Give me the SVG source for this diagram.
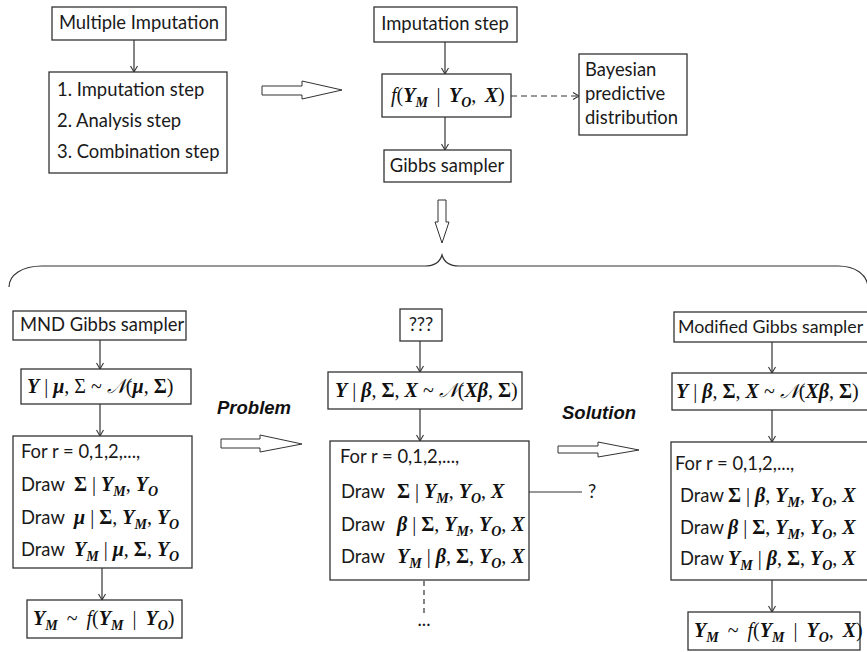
<svg xmlns="http://www.w3.org/2000/svg" width="867" height="652" viewBox="0 0 867 652">
<style>
.box{fill:#fff;stroke:#333;stroke-width:1.3}
.t{font-family:Lato,"Open Sans",sans-serif;font-size:18.4px;fill:#1a1a1a}
.lab{font-family:"Liberation Sans",Arial,sans-serif;font-size:18.5px;font-weight:bold;font-style:italic;fill:#111}
.m{font-family:"Liberation Serif","DejaVu Serif",serif;font-size:20px;fill:#111}
.bi{font-weight:bold;font-style:italic}
.b{font-weight:bold}
.i{font-style:italic}
.s{font-size:14px}
.ln{stroke:#333;stroke-width:1.2;fill:none}
.hol{fill:#fff;stroke:#333;stroke-width:1}
</style>
<defs>
<marker id="v" markerUnits="userSpaceOnUse" markerWidth="10" markerHeight="10" refX="7" refY="4" orient="auto">
<path d="M1,0.5 L7,4 L1,7.5" fill="none" stroke="#333" stroke-width="1.1"/>
</marker>
</defs>

<g id="connectors">
<line class="ln" x1="134" y1="40" x2="134" y2="72" marker-end="url(#v)"/>
<line class="ln" x1="445" y1="42" x2="445" y2="74" marker-end="url(#v)"/>
<line class="ln" x1="445" y1="117" x2="445" y2="150" marker-end="url(#v)"/>
<line class="ln" x1="511" y1="96" x2="579" y2="96" stroke-dasharray="6,4" marker-end="url(#v)"/>
<polygon class="hol" points="262,86 302,86 302,81 342,90 302,99 302,95 262,95"/>
<polygon class="hol" points="438,200 446,200 446,222 449,222 442,243 435,222 438,222"/>
<path class="ln" d="M9,287 C9,275 22,266 42,266 L425,266 C434,266 440,262 442,255 C444,262 450,266 459,266 L838,266 C856,266 867,275 868,287"/>
<line class="ln" x1="100" y1="340" x2="100" y2="369" marker-end="url(#v)"/>
<line class="ln" x1="100" y1="404" x2="100" y2="436" marker-end="url(#v)"/>
<line class="ln" x1="102" y1="568" x2="102" y2="600" marker-end="url(#v)"/>
<polygon class="hol" points="221,439 260,439 260,435 302,444 260,452 260,448 221,448"/>
<line class="ln" x1="420" y1="341" x2="420" y2="372" marker-end="url(#v)"/>
<line class="ln" x1="420" y1="409" x2="420" y2="441" marker-end="url(#v)"/>
<line class="ln" x1="515" y1="492" x2="582" y2="492"/>
<line class="ln" x1="424" y1="581" x2="424" y2="613" stroke-dasharray="5,4"/>
<polygon class="hol" points="558,446 598,446 598,442 639,450 598,457 598,453 558,453"/>
<line class="ln" x1="772" y1="342" x2="772" y2="373" marker-end="url(#v)"/>
<line class="ln" x1="772" y1="410" x2="772" y2="442" marker-end="url(#v)"/>
<line class="ln" x1="772" y1="580" x2="772" y2="612" marker-end="url(#v)"/>
</g>

<g id="multiple-imputation">
<rect class="box" x="52" y="7" width="174" height="33"/>
<text class="t" x="139" y="29" text-anchor="middle">Multiple Imputation</text>
</g>
<g id="steps">
<rect class="box" x="49" y="72" width="178" height="101"/>
<text class="t" x="57" y="96">1. Imputation step</text>
<text class="t" x="57" y="127">2. Analysis step</text>
<text class="t" x="57" y="158">3. Combination step</text>
</g>
<g id="imputation-step">
<rect class="box" x="374" y="7" width="143" height="35"/>
<text class="t" x="445" y="30" text-anchor="middle">Imputation step</text>
</g>
<g id="f-box">
<rect class="box" x="382" y="74" width="129" height="43"/>
<text class="m" x="391" y="102" word-spacing="3.5"><tspan class="i">f</tspan>(<tspan class="bi">Y</tspan><tspan class="bi s" dy="5">M</tspan><tspan dy="-5"> | </tspan><tspan class="bi">Y</tspan><tspan class="bi s" dy="5">O</tspan><tspan dy="-5">, </tspan><tspan class="bi">X</tspan>)</text>
</g>
<g id="gibbs-sampler">
<rect class="box" x="384" y="150" width="127" height="32"/>
<text class="t" x="447" y="172" text-anchor="middle">Gibbs sampler</text>
</g>
<g id="bayesian">
<rect class="box" x="579" y="54" width="108" height="81"/>
<text class="t" x="585" y="76">Bayesian</text>
<text class="t" x="585" y="100">predictive</text>
<text class="t" x="585" y="124">distribution</text>
</g>

<g id="mnd-gibbs">
<rect class="box" x="13" y="311" width="173" height="29"/>
<text class="t" x="20" y="331">MND Gibbs sampler</text>
</g>
<g id="mnd-model">
<rect class="box" x="21" y="369" width="170" height="35"/>
<text class="m" x="27" y="393"><tspan class="bi">Y</tspan> | <tspan class="bi">μ</tspan>, Σ ~ <tspan class="i">𝒩</tspan>(<tspan class="bi">μ</tspan>, <tspan class="b">Σ</tspan>)</text>
</g>
<g id="mnd-loop">
<rect class="box" x="13" y="436" width="179" height="132"/>
<text class="t" x="21" y="458">For r = 0,1,2,...,</text>
<text class="t" x="21" y="491">Draw</text>
<text class="m" x="74" y="491"><tspan class="b">Σ</tspan> | <tspan class="bi">Y</tspan><tspan class="bi s" dy="5">M</tspan><tspan dy="-5">, </tspan><tspan class="bi">Y</tspan><tspan class="bi s" dy="5">O</tspan></text>
<text class="t" x="21" y="524">Draw</text>
<text class="m" x="74" y="524"><tspan class="bi">μ</tspan> | <tspan class="b">Σ</tspan>, <tspan class="bi">Y</tspan><tspan class="bi s" dy="5">M</tspan><tspan dy="-5">, </tspan><tspan class="bi">Y</tspan><tspan class="bi s" dy="5">O</tspan></text>
<text class="t" x="21" y="556">Draw</text>
<text class="m" x="74" y="556"><tspan class="bi">Y</tspan><tspan class="bi s" dy="5">M</tspan><tspan dy="-5"> | </tspan><tspan class="bi">μ</tspan>, <tspan class="b">Σ</tspan>, <tspan class="bi">Y</tspan><tspan class="bi s" dy="5">O</tspan></text>
</g>
<g id="mnd-result">
<rect class="box" x="27" y="600" width="155" height="38"/>
<text class="m" x="33" y="625" word-spacing="4"><tspan class="bi">Y</tspan><tspan class="bi s" dy="5">M</tspan><tspan dy="-5"> ~ </tspan><tspan class="i">f</tspan>(<tspan class="bi">Y</tspan><tspan class="bi s" dy="5">M</tspan><tspan dy="-5"> | </tspan><tspan class="bi">Y</tspan><tspan class="bi s" dy="5">O</tspan><tspan dy="-5">)</tspan></text>
</g>

<text class="lab" x="217" y="414">Problem</text>
<text class="lab" x="562" y="419">Solution</text>

<g id="unknown">
<rect class="box" x="400" y="309" width="42" height="32"/>
<text class="t" x="421" y="331" text-anchor="middle">???</text>
</g>
<g id="reg-model">
<rect class="box" x="328" y="372" width="194" height="37"/>
<text class="m" x="335" y="397"><tspan class="bi">Y</tspan> | <tspan class="bi">β</tspan>, <tspan class="b">Σ</tspan>, <tspan class="bi">X</tspan> ~ <tspan class="i">𝒩</tspan>(<tspan class="bi">Xβ</tspan>, <tspan class="b">Σ</tspan>)</text>
</g>
<g id="reg-loop">
<rect class="box" x="330" y="441" width="199" height="139"/>
<text class="t" x="340" y="463">For r = 0,1,2,...,</text>
<text class="t" x="341" y="498">Draw</text>
<text class="m" x="397" y="498"><tspan class="b">Σ</tspan> | <tspan class="bi">Y</tspan><tspan class="bi s" dy="5">M</tspan><tspan dy="-5">, </tspan><tspan class="bi">Y</tspan><tspan class="bi s" dy="5">O</tspan><tspan dy="-5">, </tspan><tspan class="bi">X</tspan></text>
<text class="t" x="341" y="531">Draw</text>
<text class="m" x="397" y="531"><tspan class="bi">β</tspan> | <tspan class="b">Σ</tspan>, <tspan class="bi">Y</tspan><tspan class="bi s" dy="5">M</tspan><tspan dy="-5">, </tspan><tspan class="bi">Y</tspan><tspan class="bi s" dy="5">O</tspan><tspan dy="-5">, </tspan><tspan class="bi">X</tspan></text>
<text class="t" x="341" y="563">Draw</text>
<text class="m" x="397" y="563"><tspan class="bi">Y</tspan><tspan class="bi s" dy="5">M</tspan><tspan dy="-5"> | </tspan><tspan class="bi">β</tspan>, <tspan class="b">Σ</tspan>, <tspan class="bi">Y</tspan><tspan class="bi s" dy="5">O</tspan><tspan dy="-5">, </tspan><tspan class="bi">X</tspan></text>
</g>
<text class="t" x="588" y="498">?</text>
<text class="t" x="424" y="626" text-anchor="middle">...</text>

<g id="modified-gibbs">
<rect class="box" x="674" y="312" width="210" height="30"/>
<text class="t" x="678" y="333" style="font-size:17.8px">Modified Gibbs sampler</text>
</g>
<g id="mod-model">
<rect class="box" x="672" y="373" width="210" height="37"/>
<text class="m" x="676" y="398"><tspan class="bi">Y</tspan> | <tspan class="bi">β</tspan>, <tspan class="b">Σ</tspan>, <tspan class="bi">X</tspan> ~ <tspan class="i">𝒩</tspan>(<tspan class="bi">Xβ</tspan>, <tspan class="b">Σ</tspan>)</text>
</g>
<g id="mod-loop">
<rect class="box" x="671" y="442" width="210" height="138"/>
<text class="t" x="675" y="470">For r = 0,1,2,...,</text>
<text class="t" x="680" y="502">Draw</text>
<text class="m" x="728" y="502"><tspan class="b">Σ</tspan> | <tspan class="bi">β</tspan>, <tspan class="bi">Y</tspan><tspan class="bi s" dy="5">M</tspan><tspan dy="-5">, </tspan><tspan class="bi">Y</tspan><tspan class="bi s" dy="5">O</tspan><tspan dy="-5">, </tspan><tspan class="bi">X</tspan></text>
<text class="t" x="680" y="534">Draw</text>
<text class="m" x="728" y="534"><tspan class="bi">β</tspan> | <tspan class="b">Σ</tspan>, <tspan class="bi">Y</tspan><tspan class="bi s" dy="5">M</tspan><tspan dy="-5">, </tspan><tspan class="bi">Y</tspan><tspan class="bi s" dy="5">O</tspan><tspan dy="-5">, </tspan><tspan class="bi">X</tspan></text>
<text class="t" x="680" y="565">Draw</text>
<text class="m" x="728" y="565"><tspan class="bi">Y</tspan><tspan class="bi s" dy="5">M</tspan><tspan dy="-5"> | </tspan><tspan class="bi">β</tspan>, <tspan class="b">Σ</tspan>, <tspan class="bi">Y</tspan><tspan class="bi s" dy="5">O</tspan><tspan dy="-5">, </tspan><tspan class="bi">X</tspan></text>
</g>
<g id="mod-result">
<rect class="box" x="688" y="612" width="172" height="38"/>
<text class="m" x="694" y="637" word-spacing="4"><tspan class="bi">Y</tspan><tspan class="bi s" dy="5">M</tspan><tspan dy="-5"> ~ </tspan><tspan class="i">f</tspan>(<tspan class="bi">Y</tspan><tspan class="bi s" dy="5">M</tspan><tspan dy="-5"> | </tspan><tspan class="bi">Y</tspan><tspan class="bi s" dy="5">O</tspan><tspan dy="-5">, </tspan><tspan class="bi">X</tspan>)</text>
</g>
</svg>
